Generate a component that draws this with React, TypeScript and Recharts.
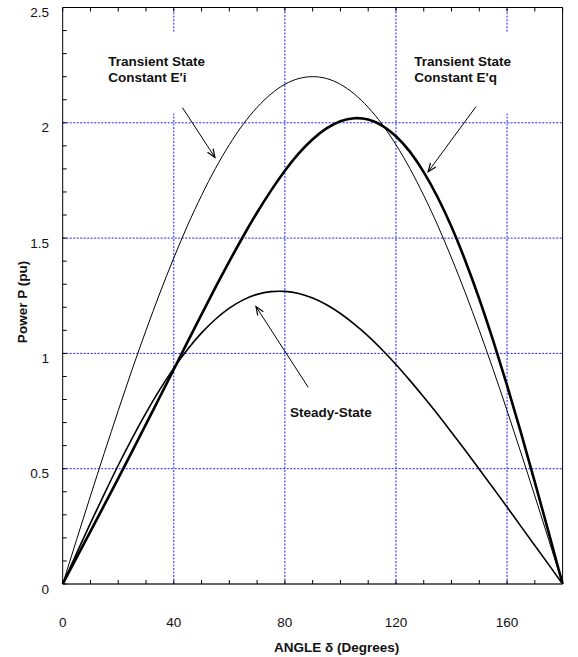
import { LineChart, Line, XAxis, YAxis, ReferenceLine, ReferenceDot } from 'recharts';

// load angle in degrees, 5 degree steps
const angles = [
  0, 5, 10, 15, 20, 25, 30, 35, 40, 45, 50, 55, 60, 65, 70, 75, 80, 85, 90,
  95, 100, 105, 110, 115, 120, 125, 130, 135, 140, 145, 150, 155, 160, 165, 170, 175, 180,
];

// transient state, constant E'i (thin)
const eiPower = [
  0, 0.192, 0.382, 0.569, 0.752, 0.93, 1.1, 1.262, 1.414, 1.556, 1.685, 1.802, 1.905, 1.994, 2.067, 2.125, 2.167, 2.192, 2.2,
  2.192, 2.167, 2.125, 2.067, 1.994, 1.905, 1.802, 1.685, 1.556, 1.414, 1.262, 1.1, 0.93, 0.752, 0.569, 0.382, 0.192, 0,
];

// transient state, constant E'q (thick)
const eqPower = [
  0, 0.114, 0.228, 0.343, 0.458, 0.575, 0.693, 0.812, 0.931, 1.051, 1.169, 1.286, 1.399, 1.508, 1.611, 1.706, 1.792, 1.867, 1.929,
  1.976, 2.007, 2.02, 2.014, 1.988, 1.942, 1.875, 1.786, 1.677, 1.549, 1.401, 1.236, 1.055, 0.861, 0.656, 0.442, 0.223, 0,
];

// steady state
const ssPower = [
  0, 0.133, 0.264, 0.391, 0.515, 0.632, 0.742, 0.844, 0.936, 1.018, 1.089, 1.148, 1.196, 1.232, 1.256, 1.268, 1.269, 1.26, 1.24,
  1.211, 1.173, 1.127, 1.075, 1.016, 0.952, 0.883, 0.811, 0.736, 0.658, 0.579, 0.498, 0.416, 0.334, 0.25, 0.167, 0.084, 0,
];

const xTicks = [0, 10, 20, 30, 40, 50, 60, 70, 80, 90, 100, 110, 120, 130, 140, 150, 160, 170, 180];
const xLabels = [0, 40, 80, 120, 160];
const yTicks = [
  0, 0.1, 0.2, 0.3, 0.4, 0.5, 0.6, 0.7, 0.8, 0.9, 1, 1.1, 1.2, 1.3, 1.4, 1.5, 1.6, 1.7, 1.8, 1.9, 2, 2.1, 2.2, 2.3, 2.4, 2.5,
];
const yLabels = [0, 0.5, 1, 1.5, 2, 2.5];
const gridX = [40, 80, 120, 160];
const gridY = [0.5, 1, 1.5, 2];

const data = angles.map((a, i) => ({ angle: a, ei: eiPower[i], eq: eqPower[i], ss: ssPower[i] }));

const FONT = '"Liberation Sans", Arial, Helvetica, sans-serif';
const GRID = '#1f1ff5';

const Empty = () => <g />;

const BottomTick = (p: any) => {
  const v = p.payload.value;
  if (!xLabels.includes(v)) return <g />;
  return (
    <text x={p.x} y={p.y + 46.5} textAnchor="middle" fontSize={13.5} fontFamily={FONT} fill="#111">
      {v}
    </text>
  );
};

const LeftTick = (p: any) => {
  const v = p.payload.value;
  if (!yLabels.some((l) => Math.abs(l - v) < 1e-6)) return <g />;
  return (
    <text x={p.x - 17.7} y={p.y + 9.5} textAnchor="end" fontSize={13.5} fontFamily={FONT} fill="#111">
      {String(Number(v.toFixed(1)))}
    </text>
  );
};

const Arrow = (p: any) => {
  const { x1, y1, x2, y2 } = p;
  const ang = Math.atan2(y2 - y1, x2 - x1);
  const len = 9;
  const spread = 0.38;
  const ax = x2 - len * Math.cos(ang - spread);
  const ay = y2 - len * Math.sin(ang - spread);
  const bx = x2 - len * Math.cos(ang + spread);
  const by = y2 - len * Math.sin(ang + spread);
  return (
    <g>
      <line x1={x1} y1={y1} x2={x2} y2={y2} stroke="#000" strokeWidth={1} />
      <polyline points={`${ax},${ay} ${x2},${y2} ${bx},${by}`} fill="none" stroke="#000" strokeWidth={1.2} />
    </g>
  );
};

const note = (lines: string[]) => (p: any) => (
  <text x={p.cx} y={p.cy} fontSize={13.5} fontWeight="bold" fontFamily={FONT} fill="#111">
    {lines.map((l, i) => (
      <tspan key={i} x={p.cx} dy={i ? 16 : 0}>
        {l}
      </tspan>
    ))}
  </text>
);

const gridLine = { stroke: GRID, strokeDasharray: '2 1.5', strokeWidth: 1 };

export default function App() {
  return (
    <div style={{ position: 'absolute', left: 0, top: 0, width: 578, height: 657, background: '#fff' }}>
      <LineChart width={578} height={657} data={data} margin={{ top: 7.5, right: 15.4, bottom: 73, left: 62.7 }}>
        <XAxis
          dataKey="angle"
          type="number"
          domain={[0, 180]}
          ticks={xTicks}
          interval={0}
          mirror
          tickSize={4}
          tickMargin={0}
          tick={BottomTick}
          axisLine={{ stroke: '#333', strokeWidth: 1.5 }}
          tickLine={{ stroke: '#000' }}
        />
        <XAxis
          xAxisId="top"
          orientation="top"
          dataKey="angle"
          type="number"
          domain={[0, 180]}
          ticks={xTicks}
          interval={0}
          mirror
          tickSize={4}
          tickMargin={0}
          tick={Empty}
          axisLine={{ stroke: '#000' }}
          tickLine={{ stroke: '#000' }}
        />
        <YAxis
          type="number"
          domain={[0, 2.5]}
          ticks={yTicks}
          interval={0}
          mirror
          tickSize={4}
          tickMargin={0}
          tick={LeftTick}
          axisLine={{ stroke: '#000' }}
          tickLine={{ stroke: '#000' }}
        />
        <YAxis
          yAxisId="right"
          orientation="right"
          type="number"
          domain={[0, 2.5]}
          ticks={yTicks}
          interval={0}
          mirror
          tickSize={3}
          tickMargin={0}
          tick={Empty}
          axisLine={{ stroke: '#000' }}
          tickLine={{ stroke: '#000' }}
        />

        {gridY.map((v) => (
          <ReferenceLine key={'gy' + v} y={v} {...gridLine} />
        ))}
        <ReferenceLine segment={[{ x: 40, y: 0 }, { x: 40, y: 2.04 }]} {...gridLine} />
        <ReferenceLine segment={[{ x: 40, y: 2.395 }, { x: 40, y: 2.5 }]} {...gridLine} />
        <ReferenceLine x={gridX[1]} {...gridLine} />
        <ReferenceLine x={gridX[2]} {...gridLine} />
        <ReferenceLine segment={[{ x: 160, y: 0 }, { x: 160, y: 2.04 }]} {...gridLine} />
        <ReferenceLine segment={[{ x: 160, y: 2.395 }, { x: 160, y: 2.5 }]} {...gridLine} />

        <Line dataKey="ei" type="natural" stroke="#000" strokeWidth={1} dot={false} activeDot={false} isAnimationActive={false} />
        <Line dataKey="ss" type="natural" stroke="#000" strokeWidth={1.6} dot={false} activeDot={false} isAnimationActive={false} />
        <Line dataKey="eq" type="natural" stroke="#000" strokeWidth={2.6} dot={false} activeDot={false} isAnimationActive={false} />

        <ReferenceLine segment={[{ x: 43.1, y: 2.066 }, { x: 54.8, y: 1.85 }]} shape={Arrow} />
        <ReferenceLine segment={[{ x: 148.8, y: 2.07 }, { x: 131.6, y: 1.788 }]} shape={Arrow} />
        <ReferenceLine segment={[{ x: 88.4, y: 0.853 }, { x: 69.6, y: 1.203 }]} shape={Arrow} />

        <ReferenceDot x={16.4} y={2.246} r={1} shape={note(['Transient State', "Constant E'i"])} />
        <ReferenceDot x={126.6} y={2.246} r={1} shape={note(['Transient State', "Constant E'q"])} />
        <ReferenceDot x={81.8} y={0.724} r={1} shape={note(['Steady-State'])} />
      </LineChart>
      <svg width={578} height={657} style={{ position: 'absolute', left: 0, top: 0, pointerEvents: 'none' }}>
        <text x={336.7} y={651.5} textAnchor="middle" fontSize={13.5} fontWeight="bold" fontFamily={FONT} fill="#111">
          ANGLE δ (Degrees)
        </text>
        <text
          transform="translate(26.8,302) rotate(-90)"
          textAnchor="middle"
          fontSize={13.5}
          fontWeight="bold"
          fontFamily={FONT}
          fill="#111"
        >
          Power P (pu)
        </text>
      </svg>
    </div>
  );
}
